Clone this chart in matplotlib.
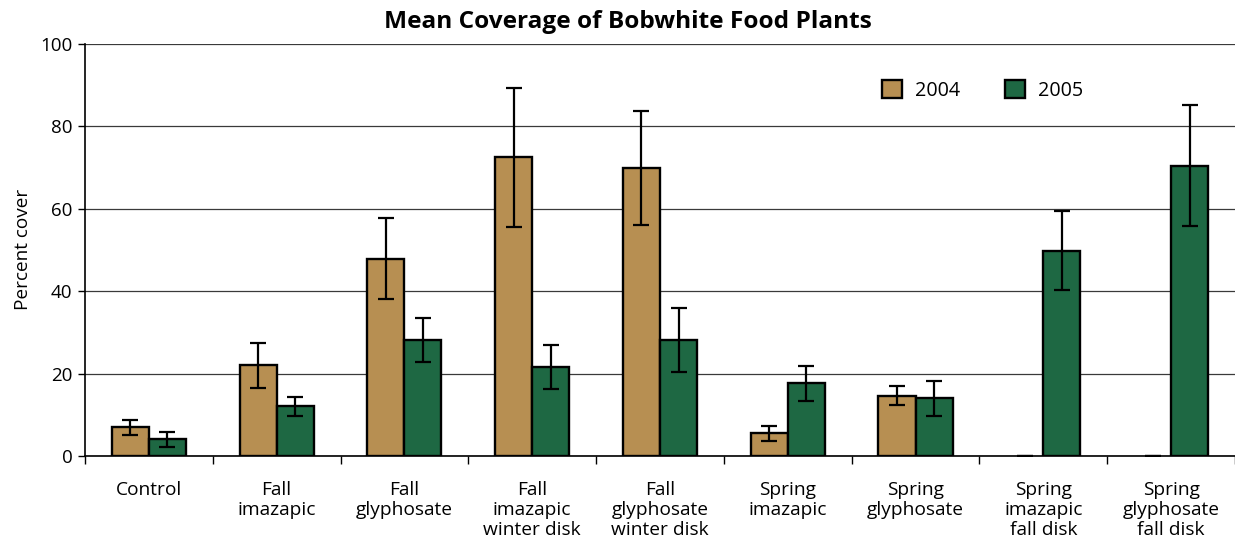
import numpy as np
import matplotlib
matplotlib.use("Agg")
from matplotlib import pyplot as plt
from matplotlib.patches import Patch

plt.rcParams['font.family'] = ['Open Sans', 'DejaVu Sans']

categories = ["Control", "Fall\nimazapic", "Fall\nglyphosate", "Fall\nimazapic\nwinter disk",
              "Fall\nglyphosate\nwinter disk", "Spring\nimazapic", "Spring\nglyphosate",
              "Spring\nimazapic\nfall disk", "Spring\nglyphosate\nfall disk"]
years = ["2004", "2005"]
mean_2004 = [7.0, 22.0, 47.8, 72.4, 69.8, 5.5, 14.6, 0.0, 0.0]
err_2004 = [1.8, 5.5, 9.8, 16.9, 13.9, 1.8, 2.3, 0.0, 0.0]
mean_2005 = [4.0, 12.0, 28.1, 21.6, 28.1, 17.6, 14.0, 49.8, 70.4]
err_2005 = [1.9, 2.3, 5.3, 5.3, 7.8, 4.3, 4.3, 9.6, 14.6]

colors = ["#B78F52", "#1E6843"]

fig = plt.figure(figsize=(12.35, 5.44), dpi=100, facecolor="white")
ax = fig.add_axes([0.0688, 0.1618, 0.9312, 0.758])

x = np.arange(len(categories))
w = 0.29
for i, (vals, errs) in enumerate([(mean_2004, err_2004), (mean_2005, err_2005)]):
    pos = x + (i - 0.5) * w
    lw = [1.7 if v > 0 else 0 for v in vals]
    ax.bar(pos, vals, width=w, color=colors[i], edgecolor="black", linewidth=lw, zorder=3)
    ax.errorbar(pos, vals, yerr=errs, fmt="none", ecolor="black", elinewidth=1.6,
                capsize=5.5, capthick=1.6, zorder=4)

ax.set_xlim(-0.5, len(categories) - 0.5)
ax.set_ylim(0, 100)
ax.set_yticks(range(0, 101, 20))
ax.yaxis.grid(True, color="#3a3a3a", linewidth=0.9, zorder=0)
ax.set_axisbelow(True)

ax.set_xticks(np.arange(len(categories) + 1) - 0.5)
ax.set_xticklabels([])
ax.set_xticks(x, minor=True)
ax.set_xticklabels(categories, minor=True, fontsize=13.8, linespacing=1.15)
ax.tick_params(axis="x", which="major", direction="out", length=6, width=1)
ax.tick_params(axis="x", which="minor", length=0, pad=18)
ax.tick_params(axis="y", direction="out", length=5, width=1, labelsize=13.5, pad=4)

for s in ["top", "right"]:
    ax.spines[s].set_visible(False)
for s in ["left", "bottom"]:
    ax.spines[s].set_linewidth(1.2)

ax.set_ylabel("Percent cover", fontsize=13.7, labelpad=6)
fig.text(0.508, 0.96, "Mean Coverage of Bobwhite Food Plants", ha="center", va="center",
         fontsize=17.6, fontweight="bold")

handles = [Patch(facecolor=c, edgecolor="black", linewidth=1.7) for c in colors]
ax.legend(handles, years, ncol=2, frameon=False, fontsize=14.2, loc="upper left",
          bbox_to_anchor=(0.678, 0.955), handlelength=1.0, handleheight=1.0,
          columnspacing=2.3, handletextpad=0.65)

plt.savefig("out.png", dpi=100, facecolor="white")
